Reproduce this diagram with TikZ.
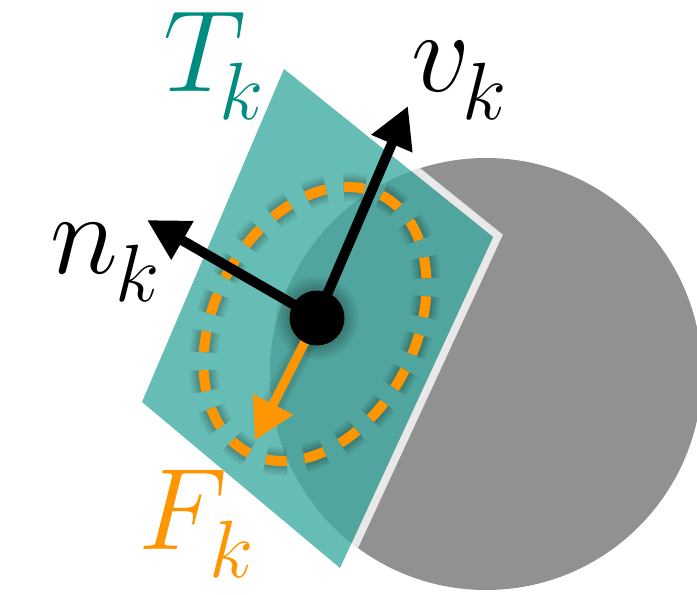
\RequirePackage{fix-cm}
\documentclass[tikz,border=0pt]{standalone}
\usetikzlibrary{arrows.meta,calc}
\definecolor{planec}{RGB}{64,172,162}
\definecolor{disk}{RGB}{145,145,145}
\definecolor{rim}{RGB}{232,232,232}
\definecolor{tealtxt}{RGB}{0,140,128}
\definecolor{orng}{RGB}{255,150,0}
% subscript set a little lower and tucked in, as in the reference
\newcommand\lowsub[2]{_{\kern#1\lower5.5pt\hbox{$\scriptstyle #2$}}}
\tikzset{
  lab/.style={inner sep=0pt, anchor=base west, font=\fontsize{58}{60}\selectfont},
  vec/.style={line width=5pt, -{Triangle[length=20.5pt,width=21pt]}},
  ring/.style={line width=5pt, dash pattern=on 10.5pt off 9pt},
  ringshadow/.style={black, opacity=0.05, dash pattern=on 10.5pt off 9pt},
  dotstyle/.style={circle, fill=black, inner sep=0pt, minimum size=27.5pt}
}
\begin{document}
\begin{tikzpicture}[x=0.5pt,y=-0.5pt]
\useasboundingbox (0,0) rectangle (697,595);
\clip (0,0) rectangle (697,595);
% sphere
\coordinate (C) at (486,374);
\fill[disk] (C) circle [radius=216];
% plane corners
\coordinate (P1) at (284,69);
\coordinate (P2) at (493,237);
\coordinate (P3) at (340,568);
\coordinate (P4) at (142,402);
\begin{scope}
  \clip (C) circle [radius=216];
  \draw[rim, line width=8pt, line join=miter] (P1) -- (P2) -- (P3);
  \fill[disk] (P1) -- (P2) -- (P3) -- (P4) -- cycle;
\end{scope}
\fill[planec, opacity=0.8] (P1) -- (P2) -- (P3) -- (P4) -- cycle;
% dashed ring
\begin{scope}[shift={(315,324)}, rotate=-27]
  \foreach \w in {14pt,12pt,10pt,8.5pt,7pt}
    \draw[ringshadow, line width=\w] (0,0) ellipse [x radius=101, y radius=145];
  \draw[ring, orng] (0,0) ellipse [x radius=101, y radius=145];
\end{scope}
% vectors
\coordinate (O) at (317,318);
\coordinate (vtip) at (408,106);
\coordinate (ntip) at (147,220);
\coordinate (ftip) at (255,440);
\foreach \r in {42,40,38,36,34,32,30}
  \fill[black, opacity=0.035] (O) circle [radius=\r];
\foreach \w in {12pt,9pt}
  \draw[black, opacity=0.06, line width=\w] (O) -- ($(O)!0.85!(ftip)$);
\draw[vec, black] (O) -- (vtip);
\draw[vec, black] (O) -- (ntip);
\draw[line width=4.5pt, orng, -{Triangle[length=20pt,width=21.5pt]}] (O) -- (ftip);
\node[dotstyle] (dot) at (O) {};
% labels
\node[lab, text=tealtxt] (Tk) at (163,91) {$T\lowsub{-5pt}{k}$};
\node[lab, text=black] (vk) at (411,91) {$v\lowsub{-2pt}{k}$};
\node[lab, text=black] (nk) at (50,273) {$n\lowsub{-1.5pt}{k}$};
\node[lab, text=orng] (Fk) at (138,549) {$F\lowsub{-1pt}{k}$};
\end{tikzpicture}
\end{document}
